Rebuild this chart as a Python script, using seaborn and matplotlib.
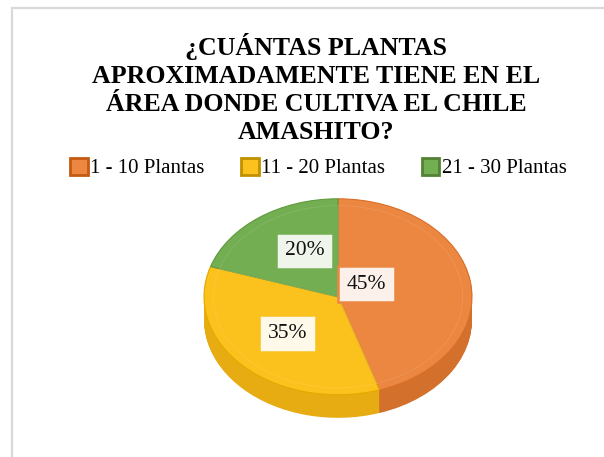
import numpy as np
import matplotlib
matplotlib.use("Agg")
import matplotlib.pyplot as plt
import seaborn as sns
from matplotlib.patches import Patch, Rectangle

categories = ["1 - 10 Plantas", "11 - 20 Plantas", "21 - 30 Plantas"]
values = [45, 35, 20]
pct_labels = ["45%", "35%", "20%"]

top_colors = ["#EC8741", "#FBC11C", "#74AE52"]
side_colors = ["#D2702C", "#E6AC12", "#5E9440"]
edge_colors = ["#D96F28", "#E3A900", "#5F9A3C"]
box_faces = ["#FBF1EA", "#FFF9EA", "#EFF5EB"]
legend_edges = ["#C55A11", "#BF9000", "#548235"]

title = "¿CUÁNTAS PLANTAS\nAPROXIMADAMENTE TIENE EN EL\nÁREA DONDE CULTIVA EL CHILE\nAMASHITO?"

sns.set_theme(style="white")
plt.rcParams["font.family"] = ["Liberation Serif", "DejaVu Serif"]

fig = plt.figure(figsize=(6.04, 4.57), dpi=100)
fig.patch.set_facecolor("white")

# outer chart frame (only top/left visible)
fig.add_artist(Rectangle((12 / 604, -0.2), 1.2, 0.2 + (457 - 8) / 457,
                         transform=fig.transFigure, fill=False,
                         edgecolor="#D9D9D9", linewidth=1.6))

ax = fig.add_axes([204 / 604, 23 / 457, 268 / 604, 245 / 457])

depth = 0.235
# extruded side of the 3d pie
for d in np.linspace(depth, 0.005, 30):
    ax.pie(values, colors=side_colors, startangle=90, counterclock=False,
           center=(0, -d), radius=1.0, wedgeprops=dict(linewidth=0))

wedges, _ = ax.pie(values, colors=top_colors, startangle=90, counterclock=False,
                   center=(0, 0), radius=1.0,
                   wedgeprops=dict(linewidth=0.8, edgecolor="#00000000"))
for w, ec in zip(wedges, edge_colors):
    w.set_edgecolor(ec)

# faint bevel ring
ax.pie(values, colors=["none"] * 3, startangle=90, counterclock=False,
       radius=0.93, wedgeprops=dict(linewidth=0.5, edgecolor="#FFFFFF22", fill=False))

label_r = [0.25, 0.53, 0.53]
label_shift = [22, 0, -8]
for w, txt, r, sh, ec, fc in zip(wedges, pct_labels, label_r, label_shift, top_colors, box_faces):
    mid = np.deg2rad((w.theta1 + w.theta2) / 2 + sh)
    ax.text(r * np.cos(mid), r * np.sin(mid), txt, ha="center", va="center",
            fontsize=15.5, color="#111111",
            bbox=dict(boxstyle="square,pad=0.4", facecolor=fc, edgecolor=ec,
                      linewidth=1.8))

ax.set_aspect("auto")
ax.set_xlim(-1.0, 1.0)
ax.set_ylim(-1.4, 1.1)
ax.axis("off")

fig.text(316 / 604, 0.807, title, ha="center", va="center", fontsize=18.6,
         fontweight="bold", color="black", linespacing=1.28)

handles = [Patch(facecolor=c, edgecolor=e, linewidth=2)
           for c, e in zip(top_colors, legend_edges)]
fig.legend(handles, categories, loc="center", bbox_to_anchor=(0.527, 0.632),
           ncol=3, frameon=False, fontsize=15, handlelength=0.85,
           handleheight=0.85, handletextpad=0.12, columnspacing=1.75,
           borderpad=0, labelcolor="black")

fig.savefig("out.png", dpi=100)
